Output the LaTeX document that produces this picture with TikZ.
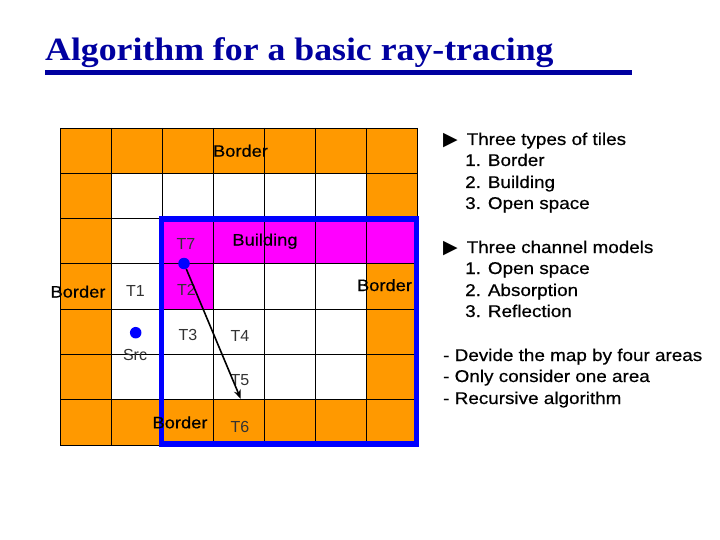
\documentclass[tikz,border=0pt]{standalone}
\usepackage{fontspec}
\setmainfont{Liberation Sans}
\newfontfamily\gulfont[FakeStretch=1.11,FakeBold=0.5]{Liberation Sans}
\newfontfamily\titlefont[FakeStretch=1.10]{Liberation Serif}
\newfontfamily\symfont{DejaVu Sans}
\usetikzlibrary{arrows.meta}
\definecolor{tileorange}{RGB}{255,153,0}
\definecolor{tilemag}{RGB}{255,0,255}
\definecolor{titleblue}{RGB}{0,0,160}
\begin{document}
\begin{tikzpicture}[x=1pt,y=-1pt,
  gridline/.style={black,line width=0.9pt},
  lbl/.style={inner sep=0pt,anchor=base,font=\gulfont\fontsize{16.5}{18}\selectfont},
  tlbl/.style={inner sep=0pt,anchor=base,text=black!80,font=\fontsize{16}{18}\selectfont},
  bul/.style={inner sep=0pt,anchor=base west,font=\gulfont\fontsize{17}{20}\selectfont},
  tri/.style={inner sep=0pt,anchor=base west,font=\symfont\fontsize{19}{20}\selectfont},
  srcdot/.style={circle,fill=blue,inner sep=0pt,minimum size=11.5pt},
  area/.style={blue,line width=5.5pt},
  ray/.style={black,line width=1.6pt,-{Stealth[length=9pt,width=7pt]}}]
\useasboundingbox (0,0) rectangle (720,540);
\fill[white] (0,0) rectangle (720,540);
% title
\node[anchor=base west,inner sep=0pt,text=titleblue,
  font=\titlefont\bfseries\fontsize{32.5}{36}\selectfont] (title) at (45,60.7)
  {Algorithm for a basic ray-tracing};
\draw[titleblue,line width=5pt] (45,73) -- (632,73);
% tiles
\fill[tileorange] (60,128) rectangle (417,445.1);
\fill[white] (111,173.3) rectangle (366,399.8);
\fill[tilemag] (162,218.6) rectangle (417,263.9);
\fill[tilemag] (162,263.9) rectangle (213,309.2);
\foreach \i in {0,...,7} \draw[gridline] ({60+51*\i},128) -- ({60+51*\i},445.1);
\foreach \j in {0,...,7} \draw[gridline] (60,{128+45.3*\j}) -- (417,{128+45.3*\j});
% considered area
\draw[area] (161.7,218.8) rectangle (416.5,444);
% labels in grid
\node[lbl] (btop) at (240.5,156.7) {Border};
\node[lbl] (bldg) at (265,245.5) {Building};
\node[lbl] (bleft) at (78,297.5) {Border};
\node[lbl] (bright) at (384.5,291) {Border};
\node[lbl] (bbot) at (180,428.3) {Border};
\node[tlbl] (t7) at (186,249) {T7};
\node[tlbl] (t1) at (135.5,296) {T1};
\node[tlbl] (t2) at (186.5,295) {T2};
\node[tlbl] (t3) at (188,340.5) {T3};
\node[tlbl] (t4) at (240,341) {T4};
\node[tlbl] (t5) at (240,385) {T5};
\node[tlbl] (t6) at (240,432) {T6};
\node[tlbl] (srclbl) at (135,360) {Src};
% ray
\node[srcdot] (d7) at (184,263.5) {};
\node[srcdot] (src) at (135.7,332.7) {};
\coordinate (hit) at (240.7,398.8);
\draw[ray] (d7) -- (hit);
% right text
\node[tri] (tri1) at (443,146) {▶};
\node[bul] (h1) at (466.5,145) {Three types of tiles};
\node[bul] (h1a) at (465,166) {1. Border};
\node[bul] (h1b) at (465,188) {2. Building};
\node[bul] (h1c) at (465,209) {3. Open space};
\node[tri] (tri2) at (443,254) {▶};
\node[bul] (h2) at (466.5,253) {Three channel models};
\node[bul] (h2a) at (465,274) {1. Open space};
\node[bul] (h2b) at (465,296) {2. Absorption};
\node[bul] (h2c) at (465,317) {3. Reflection};
\node[bul] (n1) at (443,361) {- Devide the map by four areas};
\node[bul] (n2) at (443,382) {- Only consider one area};
\node[bul] (n3) at (443,404) {- Recursive algorithm};
\end{tikzpicture}
\end{document}
